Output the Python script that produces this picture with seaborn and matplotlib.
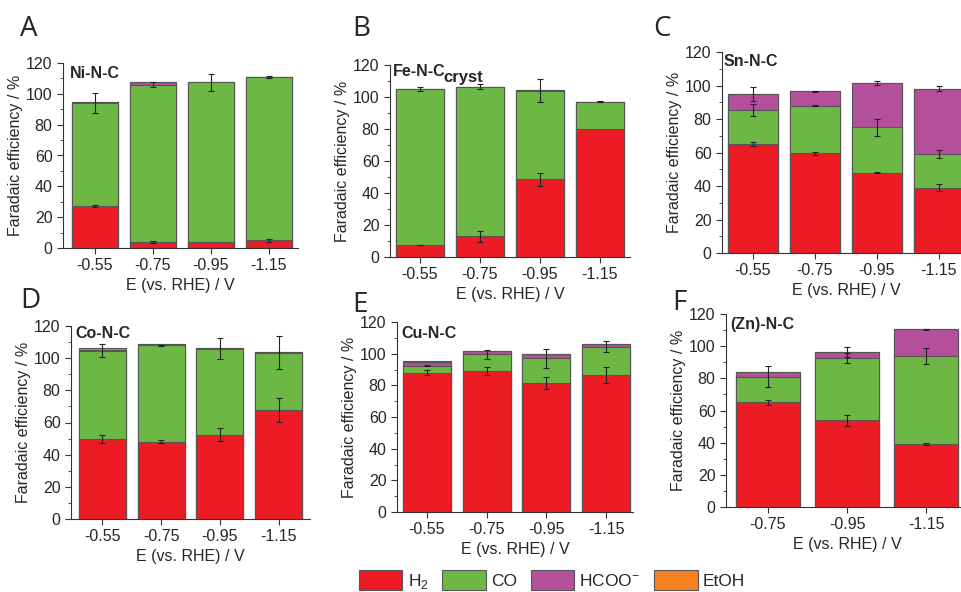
import numpy as np
import pandas as pd
import seaborn as sns
import matplotlib.pyplot as plt
from matplotlib.patches import Patch
from matplotlib.ticker import MultipleLocator

sns.set_style("ticks")
plt.rcParams['font.family'] = ['Liberation Sans', 'DejaVu Sans']
plt.rcParams['mathtext.fontset'] = 'custom'
plt.rcParams['mathtext.rm'] = 'Liberation Sans'
plt.rcParams['mathtext.bf'] = 'Liberation Sans:bold'

# potentials (V vs RHE)
pot4 = ['-0.55', '-0.75', '-0.95', '-1.15']
pot3 = ['-0.75', '-0.95', '-1.15']

# faradaic efficiencies (%) per product, and error bars at each segment top
ni_h2 = [27, 4, 4, 5]
ni_co = [67, 102, 103.5, 106]
ni_hcoo = [1, 1.5, 0.4, 0]
ni_etoh = [0, 0, 0, 0]
ni_err = [[0.6, 0.8, 0, 0.8], [6.5, 1.5, 5.5, 0.5], [0, 0, 0, 0]]

fe_h2 = [7.5, 13, 48.5, 80]
fe_co = [97.5, 93.5, 55.5, 17]
fe_hcoo = [0, 0, 0.5, 0]
fe_etoh = [0, 0, 0, 0]
fe_err = [[0.3, 3.5, 4, 0], [1, 1.5, 7, 0.3], [0, 0, 0, 0]]

sn_h2 = [65, 59.5, 48, 39]
sn_co = [20.5, 28.5, 27, 20]
sn_hcoo = [9.5, 8.5, 26.5, 39]
sn_etoh = [0, 0, 0, 0]
sn_err = [[1.2, 1, 0.5, 2.2], [3.5, 0.3, 5, 2.5], [4, 0.2, 1, 1.5]]

co_h2 = [50, 48, 52.5, 68]
co_co = [54.5, 60, 53.5, 35.5]
co_hcoo = [0.8, 0.7, 0.4, 0.4]
co_etoh = [1.2, 0, 0, 0]
co_err = [[2.5, 1, 4.3, 7.5], [4, 0.3, 6.5, 10], [0, 0, 0, 0]]

cu_h2 = [88, 89, 81.5, 86.5]
cu_co = [4.5, 10.5, 15.5, 18]
cu_hcoo = [2, 2, 2.5, 1.5]
cu_etoh = [0.8, 0, 0, 0]
cu_err = [[1.5, 2.5, 4, 5], [0.5, 3, 6, 3.5], [0, 0, 0, 0]]

zn_h2 = [65, 54, 39]
zn_co = [16, 38.5, 55]
zn_hcoo = [3, 4, 16.5]
zn_etoh = [0, 0, 0]
zn_err = [[1.5, 3.5, 0.5], [6.5, 3, 5], [0, 3, 0.3]]

names = ['Ni-N-C', 'Fe-N-C', 'Sn-N-C', 'Co-N-C', 'Cu-N-C', '(Zn)-N-C']
letters = ['A', 'B', 'C', 'D', 'E', 'F']

colors = {'H2': '#ED1C24', 'CO': '#6DB845', 'HCOO': '#B44F9C', 'EtOH': '#F58220'}
edge = '#555555'

W, H = 962, 592
fig = plt.figure(figsize=(W / 100, H / 100), dpi=100)


def px_axes(left, right, top, bottom):
    return fig.add_axes([left / W, 1 - bottom / H, (right - left) / W, (bottom - top) / H])


panels = [
    (pot4, ni_h2, ni_co, ni_hcoo, ni_etoh, ni_err, (63, 298, 63, 248), (-0.55, 3.5), (-0.43, 118), (20, 36)),
    (pot4, fe_h2, fe_co, fe_hcoo, fe_etoh, fe_err, (390, 630, 65, 257), (-0.5, 3.5), (-0.45, 120.5), (352, 36)),
    (pot4, sn_h2, sn_co, sn_hcoo, sn_etoh, sn_err, (722, 970, 52, 253), (-0.5, 3.5), (-0.48, 119), (653, 36)),
    (pot4, co_h2, co_co, co_hcoo, co_etoh, co_err, (71, 310, 326, 519), (-0.53, 3.53), (-0.46, 120), (20, 308)),
    (pot4, cu_h2, cu_co, cu_hcoo, cu_etoh, cu_err, (397, 633, 322, 512), (-0.5, 3.45), (-0.42, 117.5), (352, 312)),
    (pot3, zn_h2, zn_co, zn_hcoo, zn_etoh, zn_err, (726, 968, 314, 507), (-0.53, 2.53), (-0.47, 118), (672, 310)),
]

for i, (pot, h2, co, hcoo, etoh, err, box, xlim, lab, let) in enumerate(panels):
    ax = px_axes(*box)
    c1 = np.array(h2, dtype=float)
    c2 = c1 + np.array(co)
    c3 = c2 + np.array(hcoo)
    c4 = c3 + np.array(etoh)
    for cum, key in [(c4, 'EtOH'), (c3, 'HCOO'), (c2, 'CO'), (c1, 'H2')]:
        df = pd.DataFrame({'E': pot, 'FE': cum})
        sns.barplot(data=df, x='E', y='FE', order=pot, color=colors[key], saturation=1,
                    edgecolor=edge, linewidth=0.8, width=0.8, errorbar=None, ax=ax)
    xs = np.arange(len(pot))
    for cum, e in zip([c1, c2, c3], err):
        e = np.array(e, dtype=float)
        m = e > 0
        ax.errorbar(xs[m], cum[m], yerr=e[m], fmt='none', ecolor='#222222',
                    elinewidth=0.8, capsize=2, capthick=0.8)
    ax.set_xlim(*xlim)
    ax.set_ylim(0, 120)
    ax.yaxis.set_major_locator(MultipleLocator(20))
    ax.yaxis.set_minor_locator(MultipleLocator(10))
    sns.despine(ax=ax)
    ax.spines['left'].set_color('#333333')
    ax.spines['bottom'].set_color('#333333')
    ax.tick_params(axis='both', which='major', labelsize=11.5, length=4, width=0.8, color='#333333')
    ax.tick_params(axis='y', which='minor', length=2, width=0.6, color='#333333')
    ax.set_xlabel('E (vs. RHE) / V', fontsize=11.5, labelpad=3)
    ax.set_ylabel('Faradaic efficiency / %', fontsize=11.5, labelpad=2)
    t = ax.text(lab[0], lab[1], names[i], fontsize=11.5, fontweight='bold', va='top', ha='left')
    if letters[i] == 'B':
        ax.annotate('cryst', xy=(1, 0), xycoords=t, xytext=(-1.5, -2), textcoords='offset points',
                    fontsize=12, fontweight='bold', ha='left', va='baseline')
    fig.text(let[0] / W, 1 - let[1] / H, letters[i], fontsize=20, family='Open Sans', ha='left', va='baseline')

handles = [Patch(facecolor=colors[k], edgecolor=edge, linewidth=0.8) for k in colors]
labels = ['H$_2$', 'CO', 'HCOO$^{-}$', 'EtOH']
fig.legend(handles, labels, loc='upper left', bbox_to_anchor=(359 / W, 1 - 570 / H), ncol=4,
           frameon=False, fontsize=12.5, handlelength=2.5, handleheight=1.4,
           handletextpad=0.3, columnspacing=0.8, borderpad=0, borderaxespad=0)

fig.savefig('out.png', dpi=100)
